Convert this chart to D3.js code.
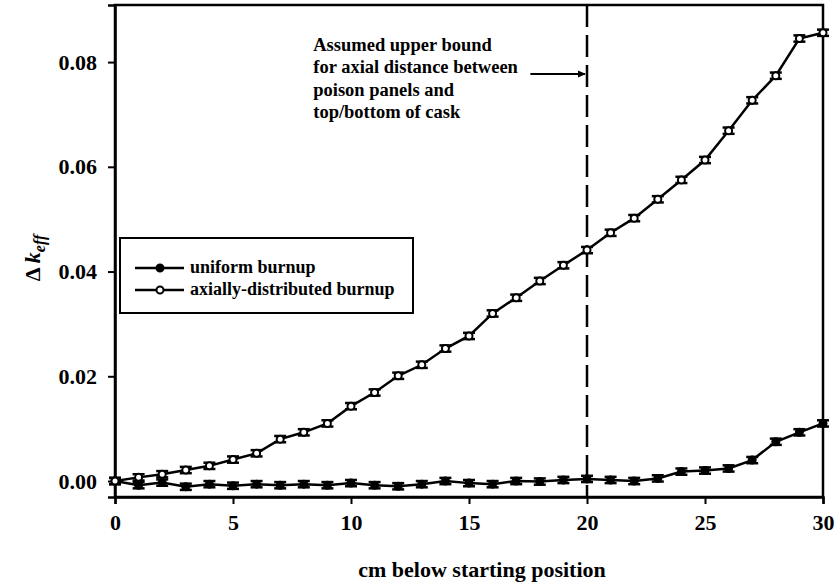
<!DOCTYPE html>
<html><head><meta charset="utf-8">
<script src="https://cdn.jsdelivr.net/npm/d3@7"></script>
<style>
body{margin:0;background:#fff;}
svg{display:block;}
</style></head>
<body><svg id="c" width="837" height="584" font-family="Liberation Serif" font-weight="bold"></svg>
<script>
const positions = d3.range(0, 31);
const uniformBurnup = [0.0000,-0.0008,-0.0003,-0.0011,-0.0006,-0.0009,-0.0006,-0.0008,-0.0006,-0.0008,
  -0.0004,-0.0008,-0.0010,-0.0006,0.0000,-0.0004,-0.0006,0.0000,-0.0001,0.0002,
  0.0004,0.0002,0.0000,0.0005,0.0018,0.0020,0.0024,0.0040,0.0075,0.0093,0.0110];
const axialBurnup = [0.0000,0.0007,0.0013,0.0021,0.0029,0.0041,0.0053,0.0080,0.0093,0.0110,
  0.0143,0.0169,0.0201,0.0222,0.0253,0.0277,0.0320,0.0350,0.0382,0.0412,
  0.0441,0.0474,0.0502,0.0538,0.0575,0.0613,0.0669,0.0727,0.0774,0.0845,0.0856];
const errorHalf = 0.0006;
const xTicks = [0,5,10,15,20,25,30];
const yTicks = [0.00,0.02,0.04,0.06,0.08];
const seriesNames = ["uniform burnup","axially-distributed burnup"];
const annotationLines = ["Assumed upper bound","for axial distance between","poison panels and","top/bottom of cask"];
const xTitle = "cm below starting position";
const boundPosition = 20;

const FONT = "Liberation Serif";
const svg = d3.select("#c");
const L=115, R=823, T=5, B=497;
const x = d3.scaleLinear().domain([0,30]).range([L,R]);
const y = d3.scaleLinear().domain([-0.00305,0.0909]).range([B,T]);

svg.append("rect").attr("x",L).attr("y",T).attr("width",R-L).attr("height",B-T)
  .attr("fill","none").attr("stroke","#000").attr("stroke-width",2.5);

const xAxis = svg.append("g").attr("transform",`translate(0,${B})`)
  .call(d3.axisBottom(x).tickValues(xTicks).tickFormat(d3.format("d")).tickSize(7).tickPadding(10));
const yAxis = svg.append("g").attr("transform",`translate(${L},0)`)
  .call(d3.axisLeft(y).tickValues(yTicks).tickFormat(d3.format(".2f")).tickSize(7).tickPadding(11));
[xAxis,yAxis].forEach(a=>{
  a.attr("font-family",FONT).attr("font-size",22).attr("font-weight","bold");
  a.select(".domain").attr("stroke-width",2.5);
  a.selectAll(".tick line").attr("stroke-width",2);
  a.selectAll(".tick text").attr("fill","#000");
});

svg.append("line").attr("x1",x(boundPosition)).attr("x2",x(boundPosition)).attr("y1",T).attr("y2",B)
  .attr("stroke","#000").attr("stroke-width",2.5).attr("stroke-dasharray","22,8");

const ann = svg.append("text").attr("x",x(8.4)).attr("y",51).attr("font-family",FONT).attr("font-size",18.5);
annotationLines.forEach((t,i)=>ann.append("tspan").attr("x",x(8.4)).attr("dy",i===0?0:22.3).text(t));
svg.append("line").attr("x1",x(17.6)).attr("x2",x(boundPosition)-2).attr("y1",74).attr("y2",74)
  .attr("stroke","#000").attr("stroke-width",1.8);
svg.append("path").attr("d",`M${x(boundPosition)-1},74 l-8,-3.5 l0,7 z`).attr("fill","#000");

const line = d3.line().x((d,i)=>x(positions[i])).y(d=>y(d));
function drawSeries(vals, filled){
  const g = svg.append("g");
  g.append("path").datum(vals).attr("d",line).attr("fill","none").attr("stroke","#000").attr("stroke-width",2.5);
  const pts = g.selectAll("g.pt").data(vals).join("g").attr("class","pt");
  pts.append("line").attr("x1",(d,i)=>x(positions[i])).attr("x2",(d,i)=>x(positions[i]))
    .attr("y1",d=>y(d-errorHalf)).attr("y2",d=>y(d+errorHalf)).attr("stroke","#000").attr("stroke-width",2);
  [1,-1].forEach(s=>{
    pts.append("line").attr("x1",(d,i)=>x(positions[i])-6).attr("x2",(d,i)=>x(positions[i])+6)
      .attr("y1",d=>y(d+s*errorHalf)).attr("y2",d=>y(d+s*errorHalf)).attr("stroke","#000").attr("stroke-width",2.5);
  });
  pts.append("circle").attr("cx",(d,i)=>x(positions[i])).attr("cy",d=>y(d)).attr("r",3.5)
    .attr("fill",filled?"#000":"#fff").attr("stroke","#000").attr("stroke-width",2);
}
drawSeries(uniformBurnup,true);
drawSeries(axialBurnup,false);

const lg = svg.append("g");
lg.append("rect").attr("x",120).attr("y",238).attr("width",293).attr("height",75)
  .attr("fill","#fff").attr("stroke","#000").attr("stroke-width",2);
seriesNames.forEach((n,i)=>{
  const yy = 268 + i*22;
  lg.append("line").attr("x1",135).attr("x2",184).attr("y1",yy).attr("y2",yy).attr("stroke","#000").attr("stroke-width",2.5);
  lg.append("circle").attr("cx",160).attr("cy",yy).attr("r",3.5).attr("fill",i===0?"#000":"#fff").attr("stroke","#000").attr("stroke-width",2);
  lg.append("text").attr("x",190).attr("y",yy+5).attr("font-family",FONT).attr("font-size",18).text(n);
});

svg.append("text").attr("x",482).attr("y",577).attr("text-anchor","middle").attr("font-family",FONT).attr("font-size",22).text(xTitle);
const yl = svg.append("text").attr("transform","translate(40,258) rotate(-90)").attr("text-anchor","middle").attr("font-family",FONT).attr("font-size",22);
yl.append("tspan").text("Δ ");
yl.append("tspan").attr("font-style","italic").text("k");
yl.append("tspan").attr("font-style","italic").attr("font-size",16).attr("dy",5).text("eff");
</script></body></html>
